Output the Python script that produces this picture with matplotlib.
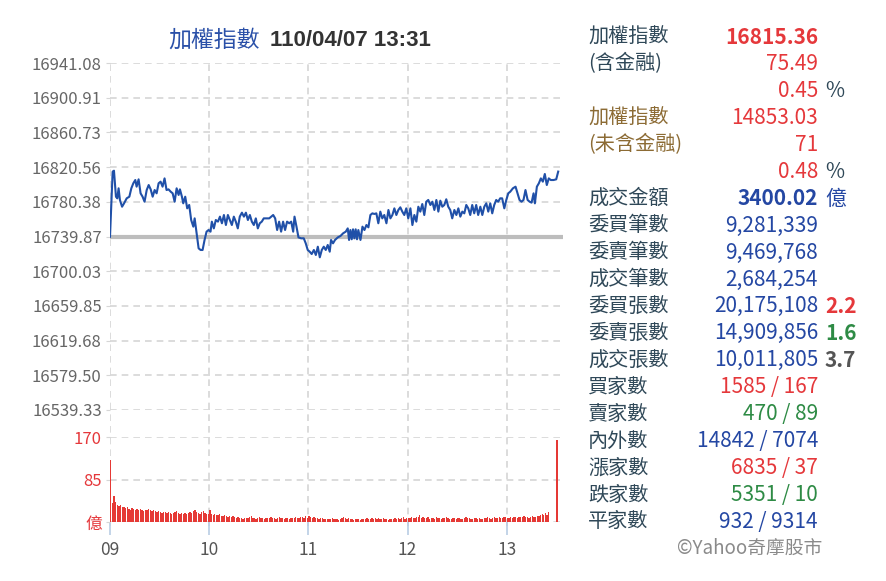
import matplotlib
matplotlib.use("Agg")
import matplotlib.pyplot as plt

plt.rcParams['font.family'] = ['Noto Sans CJK TC', 'DejaVu Sans']

W, H = 887, 581

# index: minutes after 09:00 and index level
times = [0.0, 1.6, 2.4, 3.6, 4.4, 5.2, 6.0, 7.3, 8.5, 10.1, 11.7, 12.9, 14.1, 15.3, 16.1, 17.3,
         18.5, 19.7, 20.9, 22.2, 23.4, 24.6, 25.8, 27.0, 28.2, 29.4, 30.6, 31.8, 33.0, 34.2, 35.4,
         36.7, 37.9, 39.1, 40.3, 41.5, 42.3, 43.5, 44.3, 45.5, 46.7, 47.9, 49.1, 50.4, 51.2, 52.4,
         53.6, 54.8, 56.0, 57.2, 58.4, 59.6, 60.8, 61.6, 62.8, 64.0, 65.3, 66.5, 67.7, 68.9, 70.1,
         71.3, 72.5, 73.7, 74.9, 76.1, 77.3, 78.5, 79.8, 81.0, 82.2, 83.4, 84.6, 85.8, 87.0, 88.2,
         89.4, 90.6, 91.8, 93.0, 94.7, 96.3, 97.5, 98.7, 99.9, 101.1, 102.3, 103.5, 104.7, 105.9,
         107.1, 108.4, 109.6, 110.8, 111.6, 112.8, 114.0, 115.6, 117.2, 118.4, 119.6, 120.8, 122.0,
         123.3, 124.5, 125.7, 126.9, 128.1, 129.3, 130.5, 131.7, 132.9, 133.7, 134.9, 136.1, 137.8,
         139.4, 141.0, 142.6, 143.8, 144.6, 145.4, 146.2, 147.0, 147.8, 148.6, 149.4, 150.2, 151.5,
         152.7, 153.9, 155.1, 156.3, 157.5, 158.7, 159.9, 161.1, 162.3, 163.5, 164.7, 165.9, 167.2,
         168.4, 169.6, 170.8, 172.0, 173.2, 174.4, 175.6, 176.8, 178.0, 179.2, 180.4, 181.7, 182.9,
         184.1, 185.3, 186.5, 187.7, 188.9, 190.1, 191.3, 192.5, 193.8, 195.0, 196.2, 197.4, 198.6,
         199.8, 201.0, 202.2, 203.4, 204.6, 205.8, 207.0, 208.3, 209.5, 210.7, 211.9, 213.1, 214.3,
         215.5, 216.7, 217.9, 219.1, 220.3, 221.5, 222.7, 224.0, 225.2, 226.4, 227.6, 228.8, 230.0,
         231.2, 232.4, 233.6, 234.8, 236.0, 237.2, 238.5, 239.7, 240.9, 242.1, 243.7, 245.3, 246.5,
         247.7, 248.9, 250.1, 251.3, 252.6, 253.8, 255.0, 256.2, 257.0, 258.2, 259.4, 260.6, 261.8,
         263.0, 264.2, 265.4, 266.6, 268.3, 269.9, 271.1]
index = [16739.9, 16815.3, 16816.4, 16786.3, 16784.4, 16796.0, 16782.5, 16774.7, 16778.6, 16784.4,
         16786.3, 16796.0, 16801.8, 16805.6, 16797.9, 16806.4, 16790.2, 16786.3, 16780.5, 16794.0,
         16799.8, 16794.8, 16786.3, 16794.0, 16790.2, 16801.8, 16803.7, 16797.9, 16807.5, 16794.0,
         16794.8, 16792.1, 16790.2, 16780.5, 16796.0, 16788.3, 16794.8, 16786.3, 16778.6, 16786.3,
         16772.8, 16776.7, 16759.3, 16751.6, 16761.2, 16743.9, 16726.5, 16724.6, 16724.6, 16736.2,
         16745.8, 16747.7, 16745.8, 16757.4, 16749.6, 16759.3, 16757.4, 16763.2, 16755.5, 16765.1,
         16753.5, 16765.1, 16759.3, 16753.5, 16763.2, 16757.4, 16749.6, 16763.2, 16767.8, 16763.2,
         16767.8, 16759.3, 16765.1, 16757.4, 16753.5, 16761.2, 16749.6, 16755.5, 16757.4, 16761.2,
         16761.2, 16761.2, 16763.2, 16765.1, 16761.2, 16747.7, 16757.4, 16745.8, 16757.4, 16747.7,
         16757.4, 16755.5, 16757.4, 16745.8, 16763.2, 16751.6, 16739.2, 16738.1, 16738.1, 16732.3,
         16724.6, 16722.6, 16719.9, 16724.6, 16718.8, 16728.4, 16716.1, 16724.6, 16728.4, 16724.6,
         16730.4, 16722.6, 16736.2, 16732.3, 16736.2, 16739.2, 16740.8, 16743.9, 16745.8, 16749.6,
         16736.2, 16747.7, 16737.0, 16748.5, 16738.1, 16748.5, 16737.0, 16747.7, 16736.2, 16751.6,
         16747.7, 16753.5, 16750.8, 16765.1, 16767.0, 16766.3, 16767.0, 16755.5, 16769.0, 16761.2,
         16765.1, 16755.5, 16770.9, 16761.2, 16765.1, 16772.8, 16765.1, 16770.9, 16774.0, 16769.0,
         16765.1, 16772.8, 16761.2, 16772.8, 16753.5, 16765.1, 16757.4, 16774.7, 16769.0, 16777.8,
         16765.1, 16780.5, 16782.5, 16776.7, 16780.5, 16770.9, 16782.5, 16769.0, 16781.7, 16774.7,
         16776.7, 16783.3, 16774.7, 16770.9, 16761.2, 16770.9, 16765.1, 16772.8, 16763.2, 16769.0,
         16767.0, 16776.7, 16772.8, 16765.1, 16776.7, 16767.0, 16776.7, 16765.1, 16774.7, 16765.1,
         16774.7, 16778.6, 16769.0, 16778.6, 16767.0, 16776.7, 16782.5, 16780.5, 16784.4, 16784.4,
         16772.8, 16782.5, 16790.2, 16792.1, 16796.0, 16797.9, 16790.2, 16782.5, 16780.5, 16782.5,
         16794.0, 16782.5, 16780.5, 16779.4, 16790.2, 16778.6, 16797.9, 16801.8, 16807.5, 16803.7,
         16812.6, 16799.8, 16807.5, 16805.6, 16805.6, 16806.4, 16815.36]

prev_close = 16739.87
y_ticks = [16941.08, 16900.91, 16860.73, 16820.56, 16780.38, 16739.87,
           16700.03, 16659.85, 16619.68, 16579.50, 16539.33]

# volume per minute (億), 09:00 .. 13:25, then closing auction at 13:30
volume = [124, 38, 52, 41, 35, 33, 34, 31, 30, 29,
          30, 27, 24, 28, 26, 25, 27, 24, 26, 25,
          23, 25, 24, 26, 25, 22, 24, 23, 21, 22,
          20, 19, 21, 20, 18, 20, 19, 17, 19, 20,
          22, 19, 17, 18, 16, 19, 17, 18, 20, 18,
          22, 24, 21, 19, 17, 20, 22, 18, 16, 17,
          24, 16, 15, 17, 14, 15, 16, 13, 12, 14,
          12, 11, 13, 10, 12, 11, 9, 10, 8, 9,
          7, 8, 9, 8, 10, 12, 9, 8, 7, 9,
          10, 8, 9, 7, 8, 9, 8, 10, 9, 8,
          7, 9, 10, 8, 9, 7, 8, 9, 7, 8,
          9, 8, 10, 9, 8, 10, 11, 9, 12, 8,
          13, 10, 9, 10, 8, 9, 7, 8, 9, 7,
          6, 7, 6, 7, 8, 6, 7, 6, 5, 7,
          8, 10, 9, 7, 8, 6, 7, 5, 6, 7,
          6, 5, 6, 7, 6, 8, 7, 6, 8, 7,
          9, 7, 8, 6, 7, 8, 7, 6, 5, 7,
          6, 7, 8, 6, 9, 7, 8, 10, 7, 8,
          9, 8, 10, 9, 8, 10, 11, 15, 9, 10,
          8, 9, 11, 7, 8, 9, 7, 10, 8, 9,
          7, 8, 9, 10, 8, 6, 7, 9, 8, 7,
          9, 8, 6, 7, 8, 10, 9, 8, 6, 7,
          8, 9, 7, 8, 6, 7, 9, 8, 10, 9,
          7, 8, 10, 9, 8, 10, 9, 8, 10, 11,
          9, 8, 10, 9, 11, 10, 9, 10, 11, 10,
          12, 11, 10, 9, 11, 12, 10, 11, 13, 12,
          14, 16, 15, 18, 14, 20]
vol_times = list(range(len(volume)))
close_time = 270
close_volume = 165

hour_ticks = [0, 60, 120, 180, 240]
hour_labels = ['09', '10', '11', '12', '13']

# right-hand panel: (label, label colour, value, value colour, bold, extra, extra colour, extra bold)
RED, GREEN, BLUE, DARK, BROWN = '#e5383b', '#2e8b45', '#2447a3', '#2f4858', '#8c6b34'
panel = [
    ('加權指數', DARK, '16815.36', RED, True, '', None, False),
    ('(含金融)', DARK, '75.49', RED, False, '', None, False),
    ('', DARK, '0.45', RED, False, '%', DARK, False),
    ('加權指數', BROWN, '14853.03', RED, False, '', None, False),
    ('(未含金融)', BROWN, '71', RED, False, '', None, False),
    ('', DARK, '0.48', RED, False, '%', DARK, False),
    ('成交金額', DARK, '3400.02', BLUE, True, '億', BLUE, False),
    ('委買筆數', DARK, '9,281,339', BLUE, False, '', None, False),
    ('委賣筆數', DARK, '9,469,768', BLUE, False, '', None, False),
    ('成交筆數', DARK, '2,684,254', BLUE, False, '', None, False),
    ('委買張數', DARK, '20,175,108', BLUE, False, '2.2', RED, True),
    ('委賣張數', DARK, '14,909,856', BLUE, False, '1.6', GREEN, True),
    ('成交張數', DARK, '10,011,805', BLUE, False, '3.7', '#555555', True),
    ('買家數', DARK, '1585 / 167', RED, False, '', None, False),
    ('賣家數', DARK, '470 / 89', GREEN, False, '', None, False),
    ('內外數', DARK, '14842 / 7074', BLUE, False, '', None, False),
    ('漲家數', DARK, '6835 / 37', RED, False, '', None, False),
    ('跌家數', DARK, '5351 / 10', GREEN, False, '', None, False),
    ('平家數', DARK, '932 / 9314', BLUE, False, '', None, False),
]


def fx(px):
    return px / W


def fy(py):
    return 1 - py / H


fig = plt.figure(figsize=(W / 100, H / 100), dpi=100)
fig.patch.set_facecolor('white')

GRID = '#d6d6d6'
DASH = (0, (4, 3))
left, right = 110, 563
xmax = 274
vol_top, vol_bottom = 437, 522

# background axes carrying the vertical hour grid through both panels
ax_bg = fig.add_axes([fx(left), fy(526), fx(right - left), fy(63) - fy(526)])
ax_bg.set_xlim(0, xmax)
ax_bg.set_ylim(0, 1)
for t in hour_ticks:
    ax_bg.axvline(t, color=GRID, lw=1.2, ls=DASH)
ax_bg.axis('off')

# price panel
ax = fig.add_axes([fx(left), fy(410), fx(right - left), fy(63) - fy(410)])
ax.patch.set_alpha(0)
ax.set_xlim(0, xmax)
ax.set_ylim(y_ticks[-1], y_ticks[0])
ax.set_yticks(y_ticks)
ax.set_yticklabels([f'{v:.2f}' for v in y_ticks])
ax.set_xticks([])
for v in y_ticks:
    if v != prev_close:
        ax.axhline(v, color=GRID, lw=1.2, ls=DASH, zorder=1)
ax.axhline(prev_close, color='#bdbdbd', lw=3, zorder=2)
ax.plot(times, index, color='#2050a8', lw=1.5, zorder=3)
ax.tick_params(axis='y', length=3, color=GRID, labelcolor='#666666', labelsize=12, pad=3)
for s in ax.spines.values():
    s.set_visible(False)

# volume panel
axv = fig.add_axes([fx(left), fy(vol_bottom), fx(right - left), fy(vol_top) - fy(vol_bottom)])
axv.patch.set_alpha(0)
axv.set_xlim(0, xmax)
axv.set_ylim(0, 170)
axv.bar(vol_times, volume, width=0.8, align='edge', color='#e53935', zorder=3)
axv.bar([close_time], [close_volume], width=0.8, align='edge', color='#e53935', zorder=3)
for v in [0, 85, 170]:
    axv.axhline(v, color=GRID, lw=1.2, ls=DASH, zorder=1)
axv.set_yticks([0, 85, 170])
axv.set_yticklabels(['億', '85', '170'])
axv.tick_params(axis='y', length=3, color=GRID, labelcolor=RED, labelsize=12, pad=3)
axv.set_xticks(hour_ticks)
axv.set_xticklabels(hour_labels)
axv.tick_params(axis='x', length=9, width=1.2, color='#b9cde4', labelcolor='#555555',
                labelsize=12.5, pad=5)
for s in axv.spines.values():
    s.set_visible(False)

# title
fig.text(fx(168), fy(40), '加權指數', color='#2a50a8', fontsize=16.5, va='center', ha='left')
fig.text(fx(270), fy(40), '110/04/07 13:31', color='#333333', fontsize=16, fontweight='bold',
         family=['Liberation Sans', 'DejaVu Sans'], va='center', ha='left')

# right-hand panel
row0, step = 37, 26.94
for i, (lab, lcol, val, vcol, vbold, ext, ecol, ebold) in enumerate(panel):
    y = fy(row0 + i * step)
    if lab:
        fig.text(fx(588), y, lab, color=lcol, fontsize=14.5, va='center', ha='left')
    fig.text(fx(818), y, val, color=vcol, fontsize=15, va='center', ha='right',
             fontweight='bold' if vbold else 'normal')
    if ext:
        fig.text(fx(825), y, ext, color=ecol, fontsize=15, va='center', ha='left',
                 fontweight='bold' if ebold else 'normal')

fig.text(fx(822), fy(548), '©Yahoo奇摩股市', color='#8a8a8a', fontsize=13.5,
         va='center', ha='right')

fig.savefig('out.png', dpi=100)
